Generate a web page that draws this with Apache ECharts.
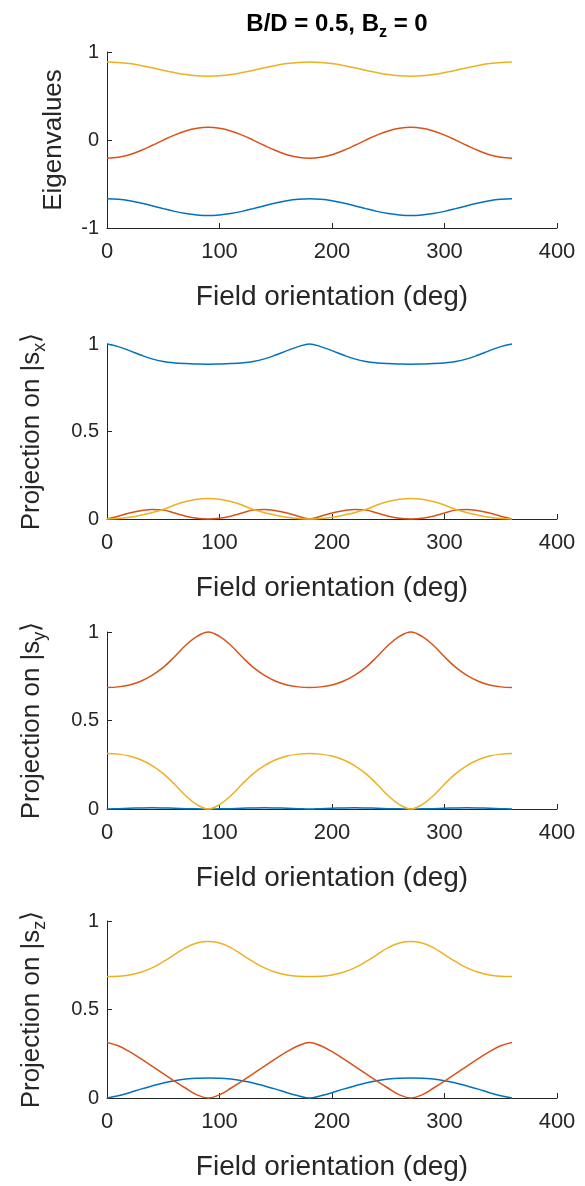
<!DOCTYPE html>
<html><head><meta charset="utf-8">
<script src="https://cdn.jsdelivr.net/npm/echarts@6/dist/echarts.min.js"></script>
<style>html,body{margin:0;padding:0;background:#fff}#c{width:585px;height:1186px}</style>
</head><body><div id="c"></div><script>
// Field orientation (deg)
const theta = [0,10,20,30,40,50,60,70,80,90,100,110,120,130,140,150,160,170,180,190,200,210,220,230,240,250,260,270,280,290,300,310,320,330,340,350,360];
const xTicks = [0,100,200,300,400];

// Panel 1: eigenvalues
const eigBlue = [-0.668,-0.674,-0.690,-0.716,-0.746,-0.780,-0.811,-0.836,-0.852,-0.858,-0.852,-0.836,-0.811,-0.780,-0.746,-0.716,-0.690,-0.674,-0.668,-0.674,-0.690,-0.716,-0.746,-0.780,-0.811,-0.836,-0.852,-0.858,-0.852,-0.836,-0.811,-0.780,-0.746,-0.716,-0.690,-0.674,-0.668];
const eigRed = [-0.208,-0.197,-0.167,-0.120,-0.063,-0.001,0.056,0.103,0.133,0.144,0.133,0.103,0.056,-0.001,-0.063,-0.120,-0.167,-0.197,-0.208,-0.197,-0.167,-0.120,-0.063,-0.001,0.056,0.103,0.133,0.144,0.133,0.103,0.056,-0.001,-0.063,-0.120,-0.167,-0.197,-0.208];
const eigYellow = [0.887,0.882,0.868,0.847,0.820,0.792,0.766,0.744,0.730,0.725,0.730,0.744,0.766,0.792,0.820,0.847,0.868,0.882,0.887,0.882,0.868,0.847,0.820,0.792,0.766,0.744,0.730,0.725,0.730,0.744,0.766,0.792,0.820,0.847,0.868,0.882,0.887];

// Panel 2: projection on |s_x>
const sxBlue = [1.000,0.985,0.962,0.937,0.915,0.900,0.892,0.888,0.886,0.885,0.886,0.888,0.892,0.900,0.915,0.937,0.962,0.985,1.000,0.985,0.962,0.937,0.915,0.900,0.892,0.888,0.886,0.885,0.886,0.888,0.892,0.900,0.915,0.937,0.962,0.985,1.000];
const sxRed = [0,0.016,0.034,0.047,0.055,0.052,0.034,0.016,0.004,0,0.004,0.016,0.034,0.052,0.055,0.047,0.034,0.016,0,0.016,0.034,0.047,0.055,0.052,0.034,0.016,0.004,0,0.004,0.016,0.034,0.052,0.055,0.047,0.034,0.016,0];
const sxYellow = [0,0.003,0.010,0.022,0.036,0.054,0.080,0.100,0.113,0.117,0.113,0.100,0.080,0.054,0.036,0.022,0.010,0.003,0,0.003,0.010,0.022,0.036,0.054,0.080,0.100,0.113,0.117,0.113,0.100,0.080,0.054,0.036,0.022,0.010,0.003,0];

// Panel 3: projection on |s_y>
const syBlue = [0,0.002,0.004,0.006,0.007,0.006,0.004,0.002,0.001,0,0.001,0.002,0.004,0.006,0.007,0.006,0.004,0.002,0,0.002,0.004,0.006,0.007,0.006,0.004,0.002,0.001,0,0.001,0.002,0.004,0.006,0.007,0.006,0.004,0.002,0];
const syRed = [0.686,0.690,0.701,0.722,0.755,0.800,0.860,0.925,0.975,1.000,0.975,0.925,0.860,0.800,0.755,0.722,0.701,0.690,0.686,0.690,0.701,0.722,0.755,0.800,0.860,0.925,0.975,1.000,0.975,0.925,0.860,0.800,0.755,0.722,0.701,0.690,0.686];
const syYellow = [0.314,0.310,0.299,0.278,0.245,0.200,0.140,0.075,0.025,0,0.025,0.075,0.140,0.200,0.245,0.278,0.299,0.310,0.314,0.310,0.299,0.278,0.245,0.200,0.140,0.075,0.025,0,0.025,0.075,0.140,0.200,0.245,0.278,0.299,0.310,0.314];

// Panel 4: projection on |s_z>
const szBlue = [0,0.013,0.030,0.050,0.068,0.085,0.098,0.107,0.112,0.113,0.112,0.107,0.098,0.085,0.068,0.050,0.030,0.013,0,0.013,0.030,0.050,0.068,0.085,0.098,0.107,0.112,0.113,0.112,0.107,0.098,0.085,0.068,0.050,0.030,0.013,0];
const szRed = [0.314,0.295,0.262,0.222,0.180,0.138,0.095,0.055,0.018,0,0.018,0.055,0.095,0.138,0.180,0.222,0.262,0.295,0.314,0.295,0.262,0.222,0.180,0.138,0.095,0.055,0.018,0,0.018,0.055,0.095,0.138,0.180,0.222,0.262,0.295,0.314];
const szYellow = [0.686,0.688,0.695,0.710,0.735,0.770,0.810,0.850,0.876,0.884,0.876,0.850,0.810,0.770,0.735,0.710,0.695,0.688,0.686,0.688,0.695,0.710,0.735,0.770,0.810,0.850,0.876,0.884,0.876,0.850,0.810,0.770,0.735,0.710,0.695,0.688,0.686];

const xAxisName = 'Field orientation (deg)';
const yAxisNames = ['{n|Eigenvalues}', '{n|Projection on |s}{s|x}{n|\u27E9}', '{n|Projection on |s}{s|y}{n|\u27E9}', '{n|Projection on |s}{s|z}{n|\u27E9}'];
const yMins = [-1, 0, 0, 0];
const yMaxs = [1, 1, 1, 1];
const yIntervals = [1, 0.5, 0.5, 0.5];
const titleText = '{b|B/D = 0.5, B}{s|z}{b| = 0}';

const panels = [
  [eigBlue, eigRed, eigYellow],
  [sxBlue, sxRed, sxYellow],
  [syBlue, syRed, syYellow],
  [szBlue, szRed, szYellow]
];

const FONT = 'Liberation Sans';
const AX = '#262626';
const COLORS = ['#0072BD', '#D95319', '#EDB120'];
const gridTops = [52, 344, 632, 921];
const gridHeights = [176, 175, 177, 177];
const yNameGaps = [36, 58, 58, 58];

const grid = [], xAxis = [], yAxis = [], series = [];
for (let i = 0; i < 4; i++) {
  grid.push({left: 107, top: gridTops[i], width: 450, height: gridHeights[i]});
  xAxis.push({
    gridIndex: i, type: 'value', min: xTicks[0], max: xTicks[xTicks.length-1], interval: 100,
    axisLine: {show: true, onZero: false, lineStyle: {color: AX, width: 1}},
    axisTick: {show: true, inside: true, length: 5, lineStyle: {color: AX}},
    splitLine: {show: false},
    axisLabel: {color: AX, fontSize: 22, fontFamily: FONT, margin: 13},
    name: xAxisName, nameLocation: 'middle', nameGap: 55,
    nameTextStyle: {color: AX, fontSize: 28, fontFamily: FONT}
  });
  yAxis.push({
    gridIndex: i, type: 'value', min: yMins[i], max: yMaxs[i], interval: yIntervals[i],
    axisLine: {show: true, onZero: false, lineStyle: {color: AX, width: 1}},
    axisTick: {show: true, inside: true, length: 5, lineStyle: {color: AX}},
    splitLine: {show: false},
    axisLabel: {color: AX, fontSize: 20, fontFamily: FONT, margin: 8},
    name: yAxisNames[i], nameLocation: 'middle', nameRotate: 90, nameGap: yNameGaps[i],
    nameTextStyle: {
      rich: {
        n: {color: AX, fontSize: 26, fontFamily: FONT, lineHeight: 34},
        s: {color: AX, fontSize: 18, fontFamily: FONT, lineHeight: 34, verticalAlign: 'bottom'}
      }
    }
  });
  panels[i].forEach((arr, k) => {
    series.push({
      type: 'line', xAxisIndex: i, yAxisIndex: i,
      data: theta.map((t, j) => [t, arr[j]]),
      showSymbol: false, smooth: 0.4, clip: false,
      lineStyle: {width: 1.5, color: COLORS[k]}, itemStyle: {color: COLORS[k]}
    });
  });
}

const chart = echarts.init(document.getElementById('c'), null, {renderer: 'canvas'});
chart.setOption({
  animation: false,
  backgroundColor: '#fff',
  title: {
    text: titleText, left: 332, top: 2, textAlign: 'center',
    textStyle: {
      rich: {
        b: {fontSize: 24, fontWeight: 'bold', fontFamily: FONT, color: '#000', lineHeight: 34},
        s: {fontSize: 16, fontWeight: 'bold', fontFamily: FONT, color: '#000', lineHeight: 34, verticalAlign: 'bottom'}
      }
    }
  },
  grid, xAxis, yAxis, series
});
</script></body></html>
